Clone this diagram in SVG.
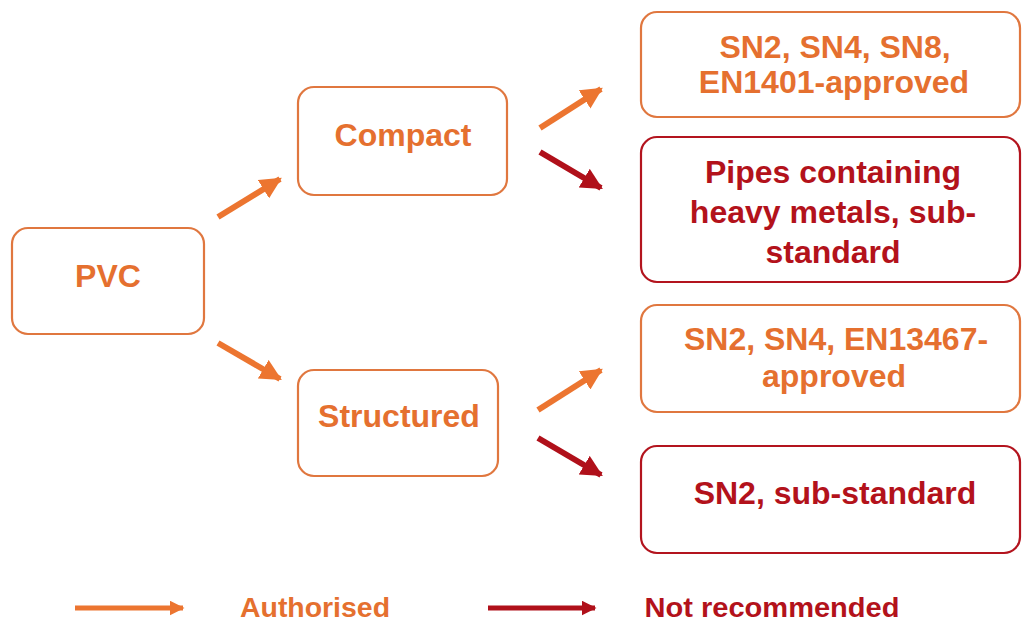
<svg xmlns="http://www.w3.org/2000/svg" width="1023" height="623" viewBox="0 0 1023 623">
<style>
.box{fill:#fff;stroke-width:2.2}
.o{stroke:#E0773F}
.r{stroke:#B3141E}
text{font-family:"Liberation Sans",Arial,sans-serif;font-weight:bold;text-anchor:middle}
.to{fill:#E5702F;font-size:32px}
.tr{fill:#B3121B;font-size:32px}
.ao{stroke:#EC7530;stroke-width:6;fill:none}
.ar{stroke:#B0101A;stroke-width:6;fill:none}
</style>
<defs>
<marker id="mo" viewBox="0 0 10 10" refX="9" refY="5" markerWidth="3.6" markerHeight="3.6" orient="auto" markerUnits="strokeWidth"><path d="M0,0 L10,5 L0,10 z" fill="#EC7530"/></marker>
<marker id="mr" viewBox="0 0 10 10" refX="9" refY="5" markerWidth="3.6" markerHeight="3.6" orient="auto" markerUnits="strokeWidth"><path d="M0,0 L10,5 L0,10 z" fill="#B0101A"/></marker>
<marker id="lo" viewBox="0 0 10 10" refX="9" refY="5" markerWidth="3" markerHeight="3" orient="auto" markerUnits="strokeWidth"><path d="M0,0 L10,5 L0,10 z" fill="#EC7530"/></marker>
<marker id="lr" viewBox="0 0 10 10" refX="9" refY="5" markerWidth="3" markerHeight="3" orient="auto" markerUnits="strokeWidth"><path d="M0,0 L10,5 L0,10 z" fill="#B0101A"/></marker>
</defs>
<rect width="1023" height="623" fill="#fff"/>
<g id="pvc"><rect class="box o" x="12" y="228" width="192" height="106" rx="16"/><text class="to" x="108" y="287">PVC</text></g>
<g id="compact"><rect class="box o" x="298" y="87" width="209" height="108" rx="16"/><text class="to" x="403" y="146">Compact</text></g>
<g id="structured"><rect class="box o" x="298" y="370" width="200" height="106" rx="16"/><text class="to" x="399" y="427">Structured</text></g>
<g id="box1"><rect class="box o" x="641" y="12" width="379" height="105" rx="16"/><text class="to" x="835" y="58">SN2, SN4, SN8,</text><text class="to" x="834" y="93">EN1401-approved</text></g>
<g id="box2"><rect class="box r" x="641" y="137" width="379" height="145" rx="16"/><text class="tr" x="833" y="183">Pipes containing</text><text class="tr" x="833" y="223">heavy metals, sub-</text><text class="tr" x="833" y="263">standard</text></g>
<g id="box3"><rect class="box o" x="641" y="305" width="379" height="107" rx="16"/><text class="to" x="836" y="350">SN2, SN4, EN13467-</text><text class="to" x="834" y="387">approved</text></g>
<g id="box4"><rect class="box r" x="641" y="446" width="379" height="107" rx="16"/><text class="tr" x="835" y="504">SN2, sub-standard</text></g>
<g id="connectors">
<line class="ao" x1="218" y1="217" x2="280" y2="179" marker-end="url(#mo)"/>
<line class="ao" x1="218" y1="343" x2="280" y2="379" marker-end="url(#mo)"/>
<line class="ao" x1="540" y1="128" x2="601" y2="89" marker-end="url(#mo)"/>
<line class="ar" x1="540" y1="152" x2="601" y2="188" marker-end="url(#mr)"/>
<line class="ao" x1="538" y1="410" x2="601" y2="370" marker-end="url(#mo)"/>
<line class="ar" x1="538" y1="438" x2="601" y2="475" marker-end="url(#mr)"/>
</g>
<g id="legend">
<line x1="75" y1="608" x2="183" y2="608" stroke="#EC7530" stroke-width="5" marker-end="url(#lo)"/>
<text x="315" y="617" fill="#E5702F" font-size="27" textLength="150" lengthAdjust="spacingAndGlyphs">Authorised</text>
<line x1="488" y1="608" x2="595" y2="608" stroke="#B0101A" stroke-width="5" marker-end="url(#lr)"/>
<text x="772" y="617" fill="#B3121B" font-size="27" textLength="255" lengthAdjust="spacingAndGlyphs">Not recommended</text>
</g>
</svg>
